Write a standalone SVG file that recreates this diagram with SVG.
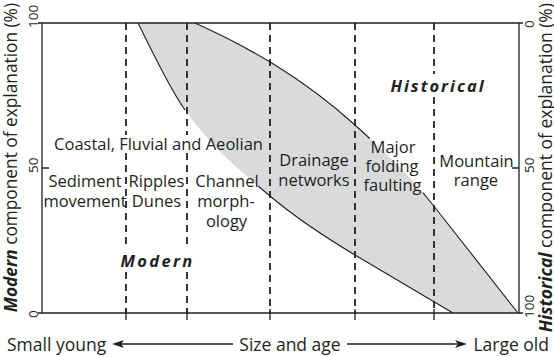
<svg xmlns="http://www.w3.org/2000/svg" width="554" height="357" viewBox="0 0 554 357">
<style>
  text { font-family: "Open Sans", "Liberation Sans", sans-serif; fill: #231f20; }
  .lbl { font-size: 16.5px; text-anchor: middle; }
  .big { font-size: 17.5px; }
  .side { text-anchor: end; }
  .tick { font-size: 13.5px; }
  .bi { font-weight: bold; font-style: italic; }
  .axis { fill: none; stroke: #231f20; stroke-width: 1.3; }
  .dash { fill: none; stroke: #231f20; stroke-width: 1.8; stroke-dasharray: 7 5; }
  .curve { fill: none; stroke: #231f20; stroke-width: 1.1; }
  .arrow { fill: none; stroke: #231f20; stroke-width: 1.6; }
</style>
<defs>
  <marker id="ah" viewBox="0 0 12 8" refX="9" refY="4" markerWidth="12" markerHeight="8" markerUnits="userSpaceOnUse" orient="auto">
    <path d="M0,0 L12,4 L0,8 L3,4 Z" fill="#231f20"/>
  </marker>
</defs>
<rect width="554" height="357" fill="#ffffff"/>

<g id="band">
  <path d="M138,23 C153.7,54.3 169.3,88 185,110 C213.3,149.7 241.7,172 270,196 C298.3,220 326.7,238 355,255 C387.7,274.6 420.3,294 453,313 L518,313 L433,205 C407,172.5 381,148.4 355,125 C301.7,77 248.3,47 195,23 Z" fill="#d9dadb"/>
</g>

<g id="connectors">
  <path class="curve" d="M138,23 C153.7,54.3 169.3,88 185,110 M258.1,186 L270,196 C298.3,220 326.7,238 355,255 C387.7,274.6 420.3,294 453,313"/>
  <path class="curve" d="M195,23 C248.3,47 301.7,77 355,125 C359.94,129.45 364.88,133.92 369.82,138.47 M422.9,192.7 L433,205 L518,313"/>
  <path class="dash" d="M126,23 V135 M126,153 V249 M126,272 V313"/>
  <path class="dash" d="M187,23 V135 M187,153 V249 M187,272 V313"/>
  <path class="dash" d="M270,23 V313"/>
  <path class="dash" d="M355,23 V313"/>
  <path class="dash" d="M434,23 V74 M434,97 V313"/>
  <line class="arrow" x1="233" y1="344" x2="115" y2="344" marker-end="url(#ah)"/>
  <line class="arrow" x1="347" y1="344" x2="464" y2="344" marker-end="url(#ah)"/>
</g>

<g id="axes">
  <path class="axis" d="M42,23 H519 V313 H42 Z"/>
  <path class="axis" d="M38,23 H42 M42,168 H49 M38,313 H42 M519,23 H523 M512,168 H519 M519,313 H523"/>
  <path class="axis" d="M126,309 V320 M187,309 V320 M270,309 V320 M355,309 V320 M434,309 V320"/>
  <text class="tick" transform="translate(38,28) rotate(-90)">100</text>
  <text class="tick" transform="translate(38,173) rotate(-90)">50</text>
  <text class="tick" transform="translate(38,318) rotate(-90)">0</text>
  <text class="tick" transform="translate(534,28) rotate(-90)">0</text>
  <text class="tick" transform="translate(534,173) rotate(-90)">50</text>
  <text class="tick" transform="translate(534,318) rotate(-90)">100</text>
  <text class="side" font-size="17.3" transform="translate(16.5,3) rotate(-90)"><tspan class="bi">Modern</tspan> component of explanation (%)</text>
  <text class="side" font-size="17.5" transform="translate(552,3) rotate(-90)"><tspan class="bi">Historical</tspan> component of explanation (%)</text>
  <text class="big" x="7" y="351">Small young</text>
  <text class="big" x="290" y="351" text-anchor="middle">Size and age</text>
  <text class="big" x="549" y="351" text-anchor="end">Large old</text>
</g>

<g id="coastal"><text class="lbl" x="158.5" y="150">Coastal, Fluvial and Aeolian</text></g>
<g id="sediment"><text class="lbl" x="85" y="187">Sediment</text><text class="lbl" x="85" y="207">movement</text></g>
<g id="ripples"><text class="lbl" x="156.5" y="187">Ripples</text><text class="lbl" x="156.5" y="207">Dunes</text></g>
<g id="channel"><text class="lbl" x="227" y="187">Channel</text><text class="lbl" x="226" y="207">morph-</text><text class="lbl" x="226.5" y="227">ology</text></g>
<g id="drainage"><text class="lbl" x="314" y="166">Drainage</text><text class="lbl" x="314" y="186">networks</text></g>
<g id="major"><text class="lbl" x="393" y="153">Major</text><text class="lbl" x="392" y="172">folding</text><text class="lbl" x="392.5" y="191">faulting</text></g>
<g id="mountain"><text class="lbl" x="476.5" y="166.5">Mountain</text><text class="lbl" x="476" y="186">range</text></g>
<g id="modern"><text class="lbl bi" font-size="18" letter-spacing="2.3" x="157.5" y="267">Modern</text></g>
<g id="historical"><text class="lbl bi" font-size="18" letter-spacing="2" x="438" y="92">Historical</text></g>
</svg>
